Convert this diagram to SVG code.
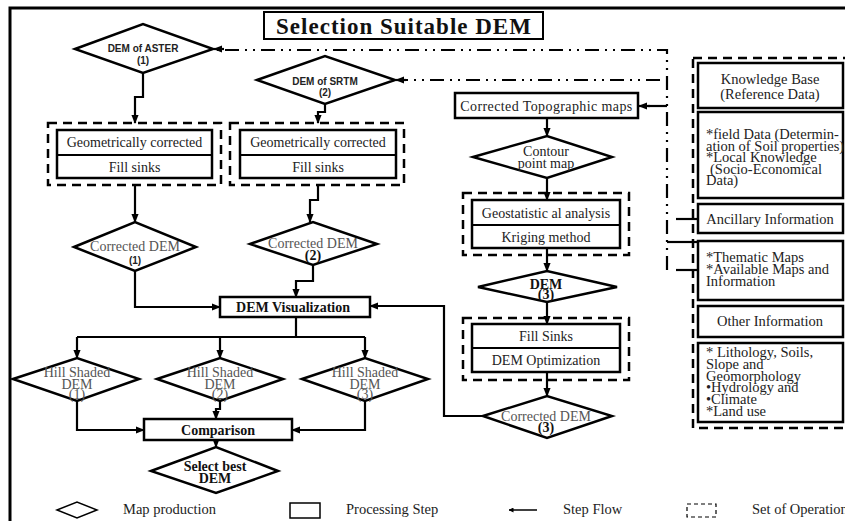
<svg xmlns="http://www.w3.org/2000/svg" width="845" height="521" viewBox="0 0 845 521">
<defs>
<marker id="ah" viewBox="0 0 10 10" refX="9" refY="5" markerWidth="5" markerHeight="5" orient="auto" markerUnits="userSpaceOnUse">
<path d="M0,0 L10,5 L0,10 z" fill="#000"/>
</marker>
<marker id="ah2" viewBox="0 0 10 10" refX="9" refY="5" markerWidth="9" markerHeight="9" orient="auto" markerUnits="userSpaceOnUse">
<path d="M0,1 L10,5 L0,9 z" fill="#000"/>
</marker>
<style>
.box{fill:#fff;stroke:#000;stroke-width:2.5}
.dia{fill:#fff;stroke:#000;stroke-width:2.5;stroke-linejoin:miter}
.set{fill:none;stroke:#000;stroke-width:2.5;stroke-dasharray:9 6}
.con{fill:none;stroke:#000;stroke-width:2.2;marker-end:url(#ah2)}
.ln{fill:none;stroke:#000;stroke-width:2.2}
.dd{fill:none;stroke:#000;stroke-width:2.2;stroke-dasharray:14 6 2 6 2 6}
.t{font-family:"Liberation Serif",serif;font-size:14px;fill:#222;text-anchor:middle}
.tr{font-family:"Liberation Serif",serif;font-size:14.5px;fill:#222;text-anchor:middle}
.tl{font-family:"Liberation Serif",serif;font-size:14.5px;fill:#222}
.tb{font-family:"Liberation Serif",serif;font-size:14px;font-weight:bold;fill:#111;text-anchor:middle}
.ts{font-family:"Liberation Sans",sans-serif;font-size:10px;font-weight:bold;fill:#222;text-anchor:middle}
.tg{font-family:"Liberation Serif",serif;font-size:14px;fill:#555;text-anchor:middle}
.lg{font-family:"Liberation Serif",serif;font-size:14.5px;fill:#222}
</style>
</defs>
<rect width="845" height="521" fill="#fff"/>
<path d="M10,521 V8 H845" fill="none" stroke="#000" stroke-width="3"/>

<g id="title">
<rect x="264" y="12" width="279" height="27" fill="#fff" stroke="#000" stroke-width="2"/>
<text x="404" y="33.5" font-family="Liberation Serif,serif" font-size="23" font-weight="bold" letter-spacing="1" text-anchor="middle" fill="#111">Selection Suitable DEM</text>
</g>

<g id="connectors">
<path class="dd" d="M667,270 V50 H216"/>
<path d="M224,49 L214,49" class="con"/>
<path class="dd" d="M660,80 H398"/>
<path d="M406,80 L396,80" class="con"/>
<path class="ln" d="M667,106 H648"/>
<path d="M650,106 L639,106" class="con"/>
<path class="ln" d="M676,219 H698"/>
<path class="ln" d="M667,242 H698"/>
<path class="ln" d="M676,270 H698"/>
<path class="con" d="M143,73 V97 H135 V123"/>
<path class="con" d="M325,104 V112 H318 V123"/>
<path class="con" d="M135,185 V222"/>
<path class="con" d="M318,185 V200 H310 V222"/>
<path class="con" d="M135,271 V307 H220"/>
<path class="con" d="M313,265 V281 H296 V297"/>
<path class="con" d="M483,416 H444 V306 H370"/>
<path class="ln" d="M296,317 V337 M77,337 H365"/>
<path class="con" d="M77,337 V358"/>
<path class="con" d="M220,337 V358"/>
<path class="con" d="M365,337 V358"/>
<path class="con" d="M77,401 V430 H144"/>
<path class="con" d="M220,401 V409 H216 V419"/>
<path class="con" d="M365,401 V430 H292"/>
<path class="con" d="M216,440 V447"/>
<path class="con" d="M547,118 V136"/>
<path class="con" d="M547,178 V200"/>
<path class="con" d="M547,248 V271"/>
<path class="con" d="M547,302 V324"/>
<path class="con" d="M547,372 V396"/>
</g>

<g id="aster">
<polygon class="dia" points="75,49 143,24 213,49 143,73"/>
<text class="ts" x="143" y="52" font-size="11.5">DEM of ASTER</text>
<text class="ts" x="143" y="64" font-size="11">(1)</text>
</g>
<g id="srtm">
<polygon class="dia" points="257,80 325,56 395,80 325,104"/>
<text class="ts" x="325" y="85" font-size="11.5">DEM of SRTM</text>
<text class="ts" x="325" y="96" font-size="11">(2)</text>
</g>

<g id="set1">
<rect class="set" x="48" y="123" width="173" height="62"/>
<rect class="box" x="57" y="130" width="155" height="48"/>
<line x1="57" y1="155" x2="212" y2="155" stroke="#000" stroke-width="2"/>
<text class="t" x="134.5" y="147">Geometrically corrected</text>
<text class="t" x="134.5" y="172">Fill sinks</text>
</g>
<g id="set2">
<rect class="set" x="230" y="123" width="174" height="62"/>
<rect class="box" x="240" y="130" width="156" height="48"/>
<line x1="240" y1="155" x2="396" y2="155" stroke="#000" stroke-width="2"/>
<text class="t" x="318" y="147">Geometrically corrected</text>
<text class="t" x="318" y="172">Fill sinks</text>
</g>

<g id="cdem1">
<polygon class="dia" points="74,247 135,222 196,247 135,271"/>
<text class="tg" x="135" y="251">Corrected DEM</text>
<text class="ts" x="135" y="264" font-size="11">(1)</text>
</g>
<g id="cdem2">
<polygon class="dia" points="250,244 313,222 377,244 313,265"/>
<text class="tg" x="313" y="248">Corrected DEM</text>
<text class="tb" x="313" y="260" font-size="11">(2)</text>
</g>

<g id="demvis">
<rect class="box" x="220" y="297" width="150" height="20"/>
<text class="tb" x="293" y="312">DEM Visualization</text>
</g>

<g id="hill1">
<polygon class="dia" points="13,379 77,358 139,379 77,401"/>
<text class="tg" x="77" y="377">Hill Shaded</text>
<text class="tg" x="77" y="389">DEM</text>
<text class="tg" x="77" y="399" font-size="12">(1)</text>
</g>
<g id="hill2">
<polygon class="dia" points="157,379 220,358 283,379 220,401"/>
<text class="tg" x="220" y="377">Hill Shaded</text>
<text class="tg" x="220" y="389">DEM</text>
<text class="tg" x="220" y="399" font-size="12">(2)</text>
</g>
<g id="hill3">
<polygon class="dia" points="302,379 365,358 428,379 365,401"/>
<text class="tg" x="365" y="377">Hill Shaded</text>
<text class="tg" x="365" y="389">DEM</text>
<text class="tg" x="365" y="399" font-size="12">(3)</text>
</g>

<g id="comparison">
<rect class="box" x="144" y="419" width="148" height="21"/>
<text class="tb" x="218" y="434.5">Comparison</text>
</g>
<g id="selectbest">
<polygon class="dia" points="151,471 216,447 278,471 216,493"/>
<text class="tb" x="215" y="471">Select best</text>
<text class="tb" x="215" y="483">DEM</text>
</g>

<g id="topo">
<rect class="box" x="455" y="93" width="183" height="25"/>
<text class="t" x="546.5" y="110.5" letter-spacing="0.4">Corrected Topographic maps</text>
</g>
<g id="contour">
<polygon class="dia" points="473,157 547,136 612,157 547,178"/>
<text class="t" x="546" y="156">Contour</text>
<text class="t" x="546" y="168">point map</text>
</g>
<g id="set3">
<rect class="set" x="463" y="193" width="166" height="62"/>
<rect class="box" x="472" y="200" width="148" height="48"/>
<line x1="472" y1="225" x2="620" y2="225" stroke="#000" stroke-width="2"/>
<text class="t" x="546" y="217.5">Geostatistic al analysis</text>
<text class="t" x="546" y="241.5">Kriging method</text>
</g>
<g id="dem3">
<polygon class="dia" points="478,287 547,271 617,287 547,302"/>
<text class="tb" x="546" y="289" font-size="16">DEM</text>
<text class="tb" x="546" y="299" font-size="10.5">(3)</text>
</g>
<g id="set4">
<rect class="set" x="463" y="318" width="166" height="62"/>
<rect class="box" x="472" y="324" width="148" height="48"/>
<line x1="472" y1="348" x2="620" y2="348" stroke="#000" stroke-width="2"/>
<text class="t" x="546" y="341">Fill Sinks</text>
<text class="t" x="546" y="365">DEM Optimization</text>
</g>
<g id="cdem3">
<polygon class="dia" points="483,416 547,396 612,416 547,438"/>
<text class="tg" x="546" y="421">Corrected DEM</text>
<text class="tb" x="546" y="432" font-size="11">(3)</text>
</g>

<g id="rightset">
<rect class="set" x="693" y="58" width="160" height="370"/>
</g>
<g id="kb">
<rect class="box" x="698" y="63" width="145" height="45"/>
<text class="tr" x="770" y="84">Knowledge Base</text>
<text class="tr" x="770" y="99">(Reference Data)</text>
</g>
<g id="field">
<rect class="box" x="698" y="112" width="145" height="86"/>
<text class="tl" x="706" y="139">*field Data (Determin-</text>
<text class="tl" x="706" y="150.5">ation of Soil properties)</text>
<text class="tl" x="706" y="162">*Local Knowledge</text>
<text class="tl" x="710" y="173.5">(Socio-Economical</text>
<text class="tl" x="706" y="185">Data)</text>
</g>
<g id="ancillary">
<rect class="box" x="698" y="204" width="145" height="29"/>
<text class="tr" x="770" y="223.5">Ancillary Information</text>
</g>
<g id="thematic">
<rect class="box" x="698" y="241" width="145" height="59"/>
<text class="tl" x="706" y="262">*Thematic Maps</text>
<text class="tl" x="706" y="274">*Available  Maps and</text>
<text class="tl" x="706" y="286">Information</text>
</g>
<g id="other">
<rect class="box" x="698" y="306" width="145" height="31"/>
<text class="tr" x="770" y="326">Other Information</text>
</g>
<g id="litho">
<rect class="box" x="698" y="343" width="145" height="79"/>
<text class="tl" x="706" y="357">* Lithology, Soils,</text>
<text class="tl" x="706" y="368.5">Slope and</text>
<text class="tl" x="706" y="380.5">Geomorphology</text>
<text class="tl" x="706" y="392">•Hydrology and</text>
<text class="tl" x="706" y="404">•Climate</text>
<text class="tl" x="706" y="416">*Land use</text>
</g>

<g id="legend">
<polygon points="57,510 77,502 97,510 77,518" fill="#fff" stroke="#000" stroke-width="1.5"/>
<text class="lg" x="123" y="514">Map production</text>
<rect x="290" y="503" width="30" height="15" fill="#fff" stroke="#000" stroke-width="1.5"/>
<text class="lg" x="346" y="514">Processing Step</text>
<line x1="537" y1="510" x2="509" y2="510" stroke="#000" stroke-width="1.5" marker-end="url(#ah)"/>
<text class="lg" x="563" y="514">Step Flow</text>
<rect x="687" y="504" width="29" height="13" fill="none" stroke="#000" stroke-width="1.2" stroke-dasharray="4 3"/>
<text class="lg" x="752" y="514">Set of Operation</text>
</g>
</svg>
